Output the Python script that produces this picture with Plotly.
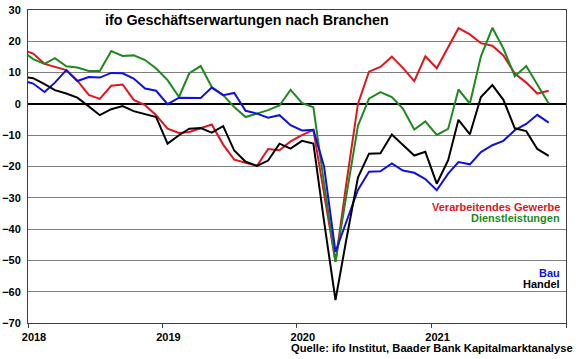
import pandas as pd
import plotly.graph_objects as go

# Monthly values, Dec 2017 (clipped at axis start) .. Nov 2021
start_month = "2017-12-01"
n_months = 48

verarbeitendes_gewerbe = [
    17.3,
    16.1, 12.8, 11.8, 10.8, 7.4, 2.9, 1.6, 5.8, 6.2, 1.3, -0.4, -3.6,
    -7.9, -9.3, -9.0, -7.9, -6.6, -13.0, -17.8, -18.8, -19.8, -14.4, -14.8, -12.0,
    -10.0, -8.3, -29.0, -50.5, -25.0, 0.0, 10.3, 11.8, 15.1, 11.5, 7.3, 15.2,
    11.4, 18.2, 24.2, 22.2, 19.4, 18.6, 15.5, 9.7, 6.8, 3.3, 4.2,
]
dienstleistungen = [
    17.0,
    14.3, 12.8, 14.6, 12.0, 11.6, 10.5, 10.5, 16.9, 15.3, 15.5, 14.0, 11.3,
    7.6, 2.2, 9.8, 12.1, 5.4, 2.8, -1.0, -4.2, -3.1, -2.0, -0.5, 4.5,
    0.3, -1.1, -25.5, -50.5, -29.0, -7.0, 1.7, 3.8, 2.2, -1.5, -8.2, -5.6,
    -9.9, -8.0, 4.6, 0.1, 15.2, 24.3, 17.7, 8.8, 12.1, 6.4, 0.1,
]
bau = [
    7.5,
    6.5, 3.8, 6.8, 10.8, 7.3, 8.6, 8.4, 9.9, 9.8, 8.1, 4.9, 4.2,
    -0.1, 2.0, 2.0, 1.9, 5.2, 2.8, 3.5, -2.2, -3.1, -4.4, -3.6, -6.8,
    -8.5, -8.3, -20.0, -47.3, -37.5, -27.5, -21.7, -21.5, -19.0, -21.3, -22.0, -24.0,
    -27.6, -22.3, -18.6, -19.3, -15.4, -13.2, -11.8, -8.4, -6.4, -3.5, -6.0,
]
handel = [
    8.7,
    8.2, 6.3, 4.4, 3.3, 2.0, -0.8, -3.6, -1.7, -0.7, -2.3, -3.3, -4.2,
    -12.7, -10.0, -7.9, -7.7, -9.2, -7.1, -14.9, -18.5, -19.8, -18.1, -12.7, -14.3,
    -11.8, -12.7, -37.5, -62.7, -43.0, -23.5, -15.9, -15.8, -9.8, -13.1, -16.5, -15.3,
    -25.5, -18.0, -5.1, -9.7, 2.2, 6.0, 1.3, -7.8, -8.7, -14.4, -16.6,
]

year_ticks = ["2018-01-01", "2019-01-01", "2020-01-01", "2021-01-01", "2022-01-01"]
year_labels = ["2018", "2019", "2020", "2021", ""]
y_ticks = list(range(-70, 31, 10))

series = [
    ("Verarbeitendes Gewerbe", verarbeitendes_gewerbe, "#e3141b"),
    ("Dienstleistungen", dienstleistungen, "#1e8a1e"),
    ("Bau", bau, "#1010e0"),
    ("Handel", handel, "#000000"),
]

dates = pd.date_range(start_month, periods=n_months, freq="MS") + pd.Timedelta(days=14)

FONT = "Liberation Sans, Arial, sans-serif"

fig = go.Figure()
for name, vals, col in series:
    fig.add_trace(go.Scatter(x=dates, y=vals, mode="lines", name=name,
                             line=dict(color=col, width=2), showlegend=False,
                             hoverinfo="skip"))

fig.update_layout(
    width=580, height=359,
    margin=dict(l=28, r=14, t=10, b=36, autoexpand=False),
    paper_bgcolor="white", plot_bgcolor="white",
    font=dict(family=FONT, size=11, color="black"),
)
fig.update_xaxes(
    type="date", range=["2018-01-01", "2022-01-01"], automargin=False,
    tickvals=year_ticks, ticktext=year_labels,
    ticks="outside", ticklen=4, tickcolor="#404040",
    ticklabelshift=6,
    showgrid=False, showline=True, linecolor="#404040", linewidth=1, mirror=True,
    tickfont=dict(family=FONT, size=11, color="black", weight="bold"),
)
fig.update_yaxes(
    range=[-70, 30], tickvals=y_ticks, automargin=False,
    showgrid=True, gridcolor="#7f7f7f", gridwidth=1,
    zeroline=True, zerolinecolor="black", zerolinewidth=2,
    showline=True, linecolor="#404040", linewidth=1, mirror=True,
    ticks="", ticklabelstandoff=4,
    tickfont=dict(family=FONT, size=11, color="black", weight="bold"),
)

def label(text, x, y, color, size=11, anchor="right"):
    fig.add_annotation(text=text, xref="paper", yref="paper", x=x, y=y,
                       xanchor=anchor, yanchor="middle", showarrow=False,
                       font=dict(family=FONT, size=size, color=color, weight="bold"))

label("ifo Geschäftserwartungen nach Branchen", 0.139, 0.969, "black", size=14.3, anchor="left")
label("Verarbeitendes Gewerbe", 0.993, 0.371, "#e3141b")
label("Dienstleistungen", 0.993, 0.335, "#1e8a1e")
label("Bau", 0.993, 0.160, "#1010e0")
label("Handel", 0.993, 0.126, "black")
label("Quelle: ifo Institut, Baader Bank Kapitalmarktanalyse", 1.017, -0.08, "black", size=11.2)

fig.write_html("out.html", config={"displayModeBar": False},
               post_script="document.body.style.margin='0';")
